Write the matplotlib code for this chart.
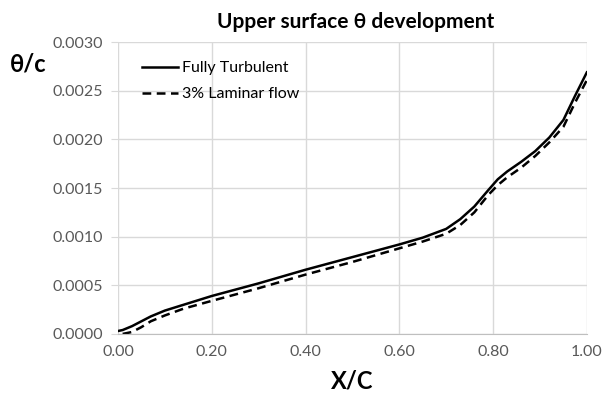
import matplotlib.pyplot as plt

plt.rcParams['font.family'] = ['Lato', 'DejaVu Sans']

x_turb = [0.0, 0.01, 0.03, 0.05, 0.07, 0.1, 0.14, 0.2, 0.3, 0.4, 0.5, 0.6, 0.65, 0.7,
          0.73, 0.76, 0.79, 0.81, 0.83, 0.86, 0.89, 0.92, 0.95, 0.975, 1.0]
y_turb = [0.00003, 0.00004, 0.00008, 0.00013, 0.00018, 0.00024, 0.0003, 0.00039,
          0.00052, 0.00066, 0.00079, 0.00092, 0.00099, 0.00108, 0.00118, 0.00131,
          0.00148, 0.00159, 0.00167, 0.00177, 0.00188, 0.00202, 0.0022, 0.00245, 0.00269]

x_lam = [0.01, 0.03, 0.05, 0.07, 0.1, 0.14, 0.2, 0.3, 0.4, 0.5, 0.6, 0.65, 0.7,
         0.73, 0.76, 0.79, 0.81, 0.83, 0.86, 0.89, 0.92, 0.95, 0.975, 1.0]
y_lam = [0.0, 0.00002, 0.00007, 0.00013, 0.00019, 0.00026, 0.00034, 0.00047,
         0.00061, 0.00074, 0.00088, 0.00095, 0.00103, 0.00112, 0.00125, 0.00143,
         0.00153, 0.00161, 0.00171, 0.00183, 0.00197, 0.00213, 0.00238, 0.00261]

x_ticks = [0.0, 0.2, 0.4, 0.6, 0.8, 1.0]
y_ticks = [0.0, 0.0005, 0.0010, 0.0015, 0.0020, 0.0025, 0.0030]

fig = plt.figure(figsize=(6.05, 3.98), dpi=100)
ax = fig.add_axes([0.195, 0.161, 0.775, 0.733])

ax.plot(x_turb, y_turb, color="black", lw=1.8, label="Fully Turbulent")
ax.plot(x_lam, y_lam, color="black", lw=1.8, dashes=(3.5, 2.2), label="3% Laminar flow")

ax.set_xlim(0, 1.0)
ax.set_ylim(0, 0.003)
ax.set_xticks(x_ticks)
ax.set_xticklabels(["%.2f" % v for v in x_ticks])
ax.set_yticks(y_ticks)
ax.set_yticklabels(["%.4f" % v for v in y_ticks])
ax.grid(True, color="#d9d9d9", lw=1)
ax.set_axisbelow(True)
for s in ["top", "right", "left"]:
    ax.spines[s].set_visible(False)
ax.spines["bottom"].set_color("#bfbfbf")
ax.tick_params(axis="y", length=5, color="#d9d9d9", labelcolor="#595959", labelsize=11.5, pad=6)
ax.tick_params(axis="x", length=0, labelcolor="#595959", labelsize=11.5, pad=8)

ax.legend(loc="upper left", bbox_to_anchor=(0.02, 0.985), frameon=False,
          handlelength=2.3, handletextpad=0.2, fontsize=11.5, labelspacing=0.75)

fig.text(0.587, 0.945, "Upper surface θ development", ha="center", va="center",
         fontsize=15, fontweight="bold")
fig.text(0.016, 0.84, "θ/c", ha="left", va="center", fontsize=17, fontweight="bold")
fig.text(0.582, 0.043, "X/C", ha="center", va="center", fontsize=17, fontweight="bold")

fig.savefig("out.png", dpi=100)
